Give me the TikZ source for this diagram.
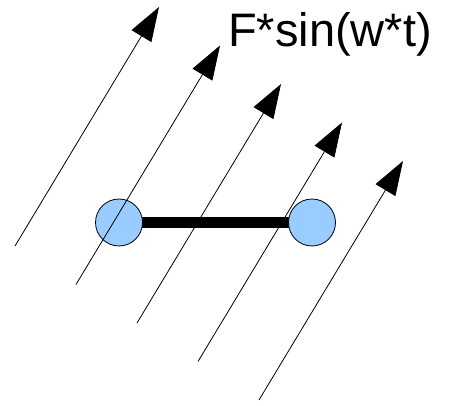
\documentclass[tikz,border=0pt]{standalone}
\usepackage{fontspec}
\setmainfont{Liberation Sans}
\usetikzlibrary{arrows.meta,backgrounds}
\definecolor{ballblue}{RGB}{153,204,255}
\tikzset{
  ball/.style={circle, draw=black, line width=0.8pt, fill=ballblue, minimum size=47pt, inner sep=0pt},
  forcearrow/.style={line width=0.8pt, -{Triangle[length=34pt,width=23pt]}},
  rod/.style={line width=11pt}
}
\begin{document}
\begin{tikzpicture}[x=1pt,y=-1pt]
\useasboundingbox (0,0) rectangle (450,406);
% balls and rod
\node[ball] (lb) at (119,222.5) {};
\node[ball] (rb) at (312,222.5) {};
\begin{scope}[on background layer]
\draw[rod] (lb.center) -- (rb.center);
\end{scope}
% force arrows
\foreach \i in {0,...,4}{
  \coordinate (s\i) at ({15+61*\i},{246+38.5*\i});
  \coordinate (t\i) at ({159+61*\i},{7+38.5*\i});
  \draw[forcearrow] (s\i) -- (t\i);
}
\node[anchor=base west, inner sep=0pt, font=\fontsize{47}{56}\selectfont] (lbl) at (228,46.5) {F*sin(w*t)};
\end{tikzpicture}
\end{document}
